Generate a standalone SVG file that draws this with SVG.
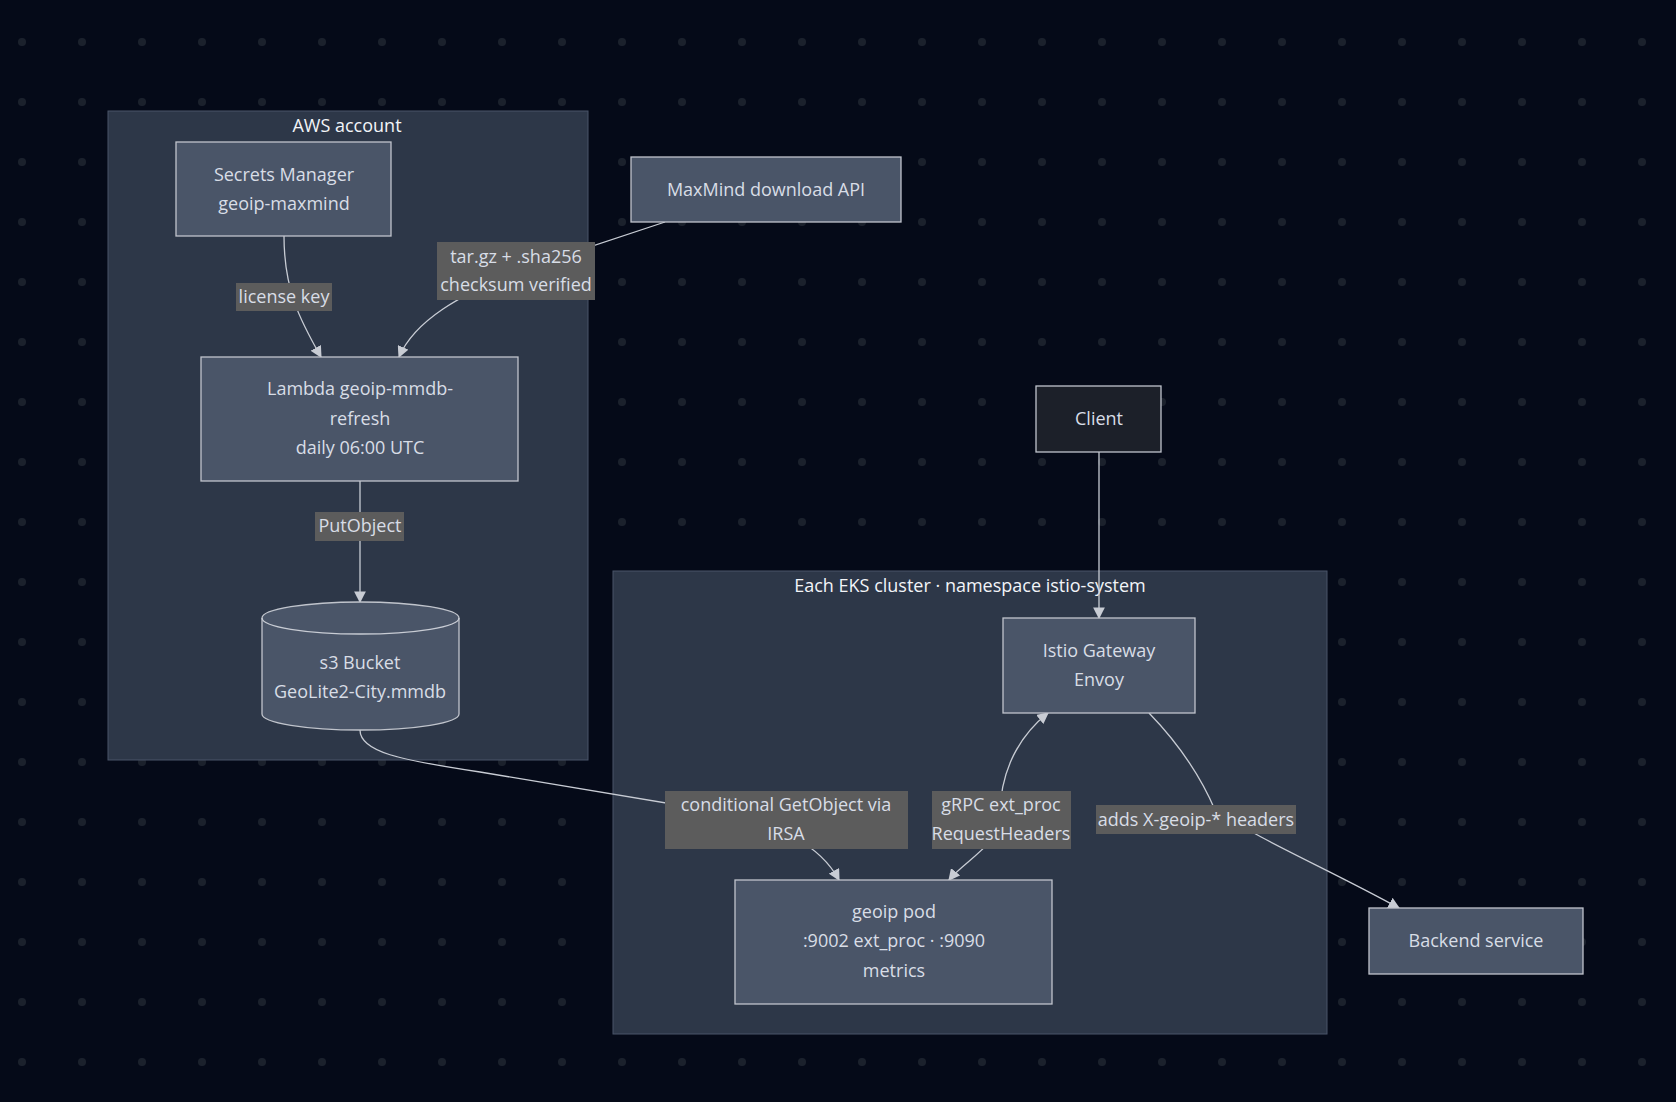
<svg xmlns="http://www.w3.org/2000/svg" width="1676" height="1102" viewBox="0 0 1676 1102">
<defs>
<pattern id="dots" x="0" y="0" width="60" height="60" patternUnits="userSpaceOnUse"><circle cx="22" cy="42" r="4" fill="#1b212c"/></pattern>
<marker id="arr" viewBox="0 0 10 10" refX="9" refY="5" markerWidth="9" markerHeight="9" orient="auto-start-reverse"><path d="M0,0 L10,5 L0,10 z" fill="#c8ccd4"/></marker>
<style>
.t{font-family:"Open Sans","DejaVu Sans",sans-serif;font-size:18px;fill:#d8dde6;text-anchor:middle}
.ct{font-family:"Open Sans","DejaVu Sans",sans-serif;font-size:18px;fill:#f2f4f8;text-anchor:middle}
.cl{fill:#2d3748;stroke:#4a5568;stroke-width:1}
.n{fill:#4a5568;stroke:#c0c4cc;stroke-width:1.3}
.lb{fill:#5c5c5c}
.e{fill:none;stroke:#c8ccd4;stroke-width:1.3}
</style>
</defs>
<rect width="1676" height="1102" fill="#050a18"/>
<rect width="1676" height="1102" fill="url(#dots)"/>
<g id="aws"><rect class="cl" x="108" y="111" width="480" height="649"/><text class="ct" x="347" y="132">AWS account</text></g>
<g id="eks"><rect class="cl" x="613" y="571" width="714" height="463"/><text class="ct" x="970" y="592">Each EKS cluster · namespace istio-system</text></g>
<g id="edges">
<path class="e" d="M284,236 C284,290 300,320 321,357" marker-end="url(#arr)"/>
<path class="e" d="M665,222 L520,270 C460,295 415,320 399,357" marker-end="url(#arr)"/>
<path class="e" d="M360,481 L360,602" marker-end="url(#arr)"/>
<path class="e" d="M360,730 C360,752 400,760 480,772 L720,812 C780,825 820,845 839,880" marker-end="url(#arr)"/>
<path class="e" d="M1099,452 L1099,618" marker-end="url(#arr)"/>
<path class="e" d="M949,880 C965,860 1000,845 1000,815 C1000,770 1020,735 1048,713" marker-start="url(#arr)" marker-end="url(#arr)"/>
<path class="e" d="M1149,713 C1180,745 1200,775 1215,810 C1260,840 1330,870 1399,908" marker-end="url(#arr)"/>
</g>
<g id="labels">
<rect class="lb" x="236" y="283" width="96" height="28"/><text class="t" x="284" y="303">license key</text>
<rect class="lb" x="437" y="242" width="158" height="58"/><text class="t" x="516" y="263">tar.gz + .sha256</text><text class="t" x="516" y="291">checksum verified</text>
<rect class="lb" x="315" y="512" width="89" height="29"/><text class="t" x="360" y="532">PutObject</text>
<rect class="lb" x="665" y="791" width="243" height="58"/><text class="t" x="786" y="811">conditional GetObject via</text><text class="t" x="786" y="840">IRSA</text>
<rect class="lb" x="932" y="791" width="139" height="58"/><text class="t" x="1001" y="811">gRPC ext_proc</text><text class="t" x="1001" y="840">RequestHeaders</text>
<rect class="lb" x="1096" y="805" width="200" height="29"/><text class="t" x="1196" y="826">adds X-geoip-* headers</text>
</g>
<g id="secrets"><rect class="n" x="176" y="142" width="215" height="94"/><text class="t" x="284" y="181">Secrets Manager</text><text class="t" x="284" y="210">geoip-maxmind</text></g>
<g id="maxmind"><rect class="n" x="631" y="157" width="270" height="65"/><text class="t" x="766" y="196">MaxMind download API</text></g>
<g id="lambda"><rect class="n" x="201" y="357" width="317" height="124"/><text class="t" x="360" y="395">Lambda geoip-mmdb-</text><text class="t" x="360" y="425">refresh</text><text class="t" x="360" y="454">daily 06:00 UTC</text></g>
<g id="s3"><path class="n" d="M262,618 A98.5,16 0 0 1 459,618 L459,714 A98.5,16 0 0 1 262,714 Z"/><path class="e" d="M262,618 A98.5,16 0 0 0 459,618" stroke="#c0c4cc"/><text class="t" x="360" y="669">s3 Bucket</text><text class="t" x="360" y="698">GeoLite2-City.mmdb</text></g>
<g id="client"><rect x="1036" y="386" width="125" height="66" fill="#1c2029" stroke="#c0c4cc" stroke-width="1.3"/><text class="t" x="1099" y="425">Client</text></g>
<g id="istio"><rect class="n" x="1003" y="618" width="192" height="95"/><text class="t" x="1099" y="657">Istio Gateway</text><text class="t" x="1099" y="686">Envoy</text></g>
<g id="geoip"><rect class="n" x="735" y="880" width="317" height="124"/><text class="t" x="894" y="918">geoip pod</text><text class="t" x="894" y="947">:9002 ext_proc · :9090</text><text class="t" x="894" y="977">metrics</text></g>
<g id="backend"><rect class="n" x="1369" y="908" width="214" height="66"/><text class="t" x="1476" y="947">Backend service</text></g>
</svg>
